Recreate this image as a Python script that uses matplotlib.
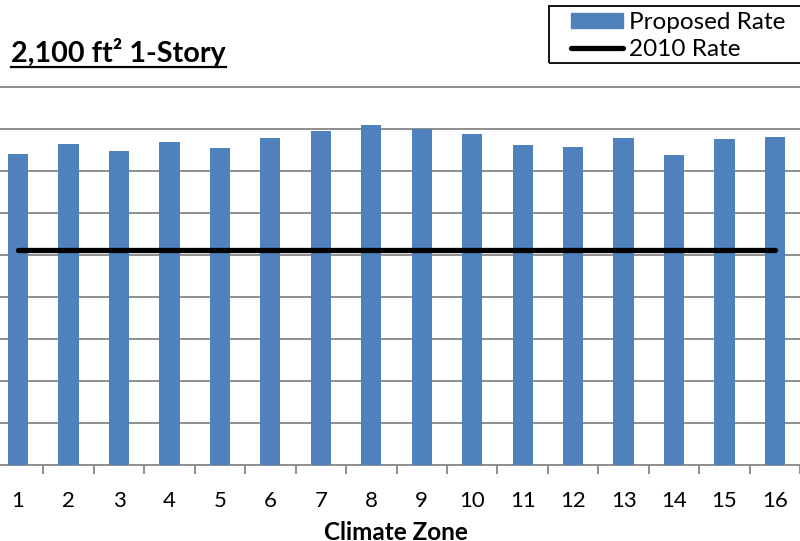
import numpy as np
import matplotlib.pyplot as plt
from matplotlib.patches import Rectangle
from matplotlib.lines import Line2D

# rates by climate zone (cents/kWh)
zones = np.arange(1, 17)
zone_labels = [str(z) for z in zones]
proposed_rate = [14.80, 15.28, 14.94, 15.36, 15.08, 15.56, 15.90, 16.18,
                 16.00, 15.76, 15.22, 15.14, 15.56, 14.74, 15.52, 15.62]
rate_2010 = 10.22

plt.rcParams['font.family'] = ['Lato', 'DejaVu Sans']

W, H = 800, 541
fig = plt.figure(figsize=(W / 100, H / 100), dpi=100)

# plot area runs a little past the left edge of the figure
x0, x1 = -7.2, 800.2
y_top, y_bot = 87, 465
ax = fig.add_axes([x0 / W, 1 - y_bot / H, (x1 - x0) / W, (y_bot - y_top) / H])

bar_color = '#4F81BD'
grid_color = '#868686'

ax.bar(zones, proposed_rate, width=0.40, color=bar_color, zorder=2)
ax.plot([zones[0], zones[-1]], [rate_2010, rate_2010], color='black', lw=3.8,
        solid_capstyle='round', zorder=3)

ax.set_xlim(0.5, 16.5)
ax.set_ylim(0, 18)
for g in np.arange(0, 18.1, 2):
    ax.axhline(g, color=grid_color, lw=1.3, zorder=1, clip_on=False)

for s in ax.spines.values():
    s.set_visible(False)
ax.set_yticks([])
ax.set_xticks(zones)
ax.set_xticklabels(zone_labels, fontsize=16)
ax.set_xticks(np.arange(0.5, 16.6, 1), minor=True)
ax.tick_params(axis='x', which='major', length=0, pad=18.5)
ax.tick_params(axis='x', which='minor', length=6.5, width=1.3, color=grid_color)

# axis title sits low, partly below the bottom edge
fig.text(396 / W, 1 - 521 / H, 'Climate Zone', fontsize=17.5, fontweight='bold',
         ha='center', va='top')

# title with underline
title = fig.text(11 / W, 1 - 62 / H, '2,100 ft² 1-Story', fontsize=20.7,
                 fontweight='bold', ha='left', va='baseline')
fig.canvas.draw()
bb = title.get_window_extent()
uy = 1 - 67 / H
fig.add_artist(Line2D([bb.x0 / W, bb.x1 / W], [uy, uy], color='black', lw=1.6,
                      transform=fig.transFigure))

# legend box, open on the right
fig.add_artist(Rectangle((549 / W, 1 - 63 / H), 300 / W, 57 / H, fill=False,
                         edgecolor='black', lw=1.3, transform=fig.transFigure))
handles = [Rectangle((0, 0), 1, 1, color=bar_color),
           Line2D([0], [0], color='black', lw=3.8, solid_capstyle='round')]
fig.legend(handles, ['Proposed Rate', '2010 Rate'], loc='upper left',
           bbox_to_anchor=(571 / W, 1 - 12 / H), frameon=False, fontsize=17.5,
           borderpad=0, borderaxespad=0, handlelength=2.15, handleheight=0.6,
           handletextpad=0.25, labelspacing=0.24)

fig.savefig('out.png', dpi=100)
